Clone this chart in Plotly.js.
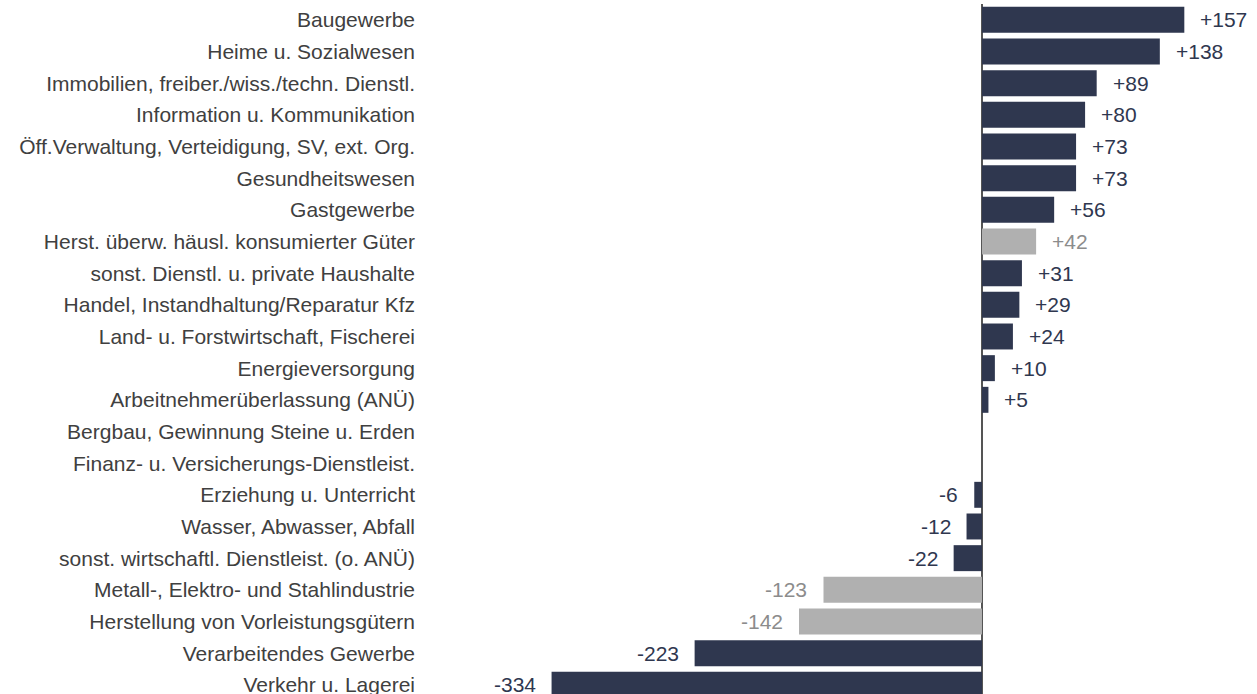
<!DOCTYPE html>
<html><head><meta charset="utf-8">
<script src="https://cdn.plot.ly/plotly-3.0.1.min.js"></script>
<style>html,body{margin:0;padding:0;background:#fff;}#chart{width:1257px;height:694px;}</style>
</head><body><div id="chart"></div>
<script>
const categories = [
  "Baugewerbe",
  "Heime u. Sozialwesen",
  "Immobilien, freiber./wiss./techn. Dienstl.",
  "Information u. Kommunikation",
  "Öff.Verwaltung, Verteidigung, SV, ext. Org.",
  "Gesundheitswesen",
  "Gastgewerbe",
  "Herst. überw. häusl. konsumierter Güter",
  "sonst. Dienstl. u. private Haushalte",
  "Handel, Instandhaltung/Reparatur Kfz",
  "Land- u. Forstwirtschaft, Fischerei",
  "Energieversorgung",
  "Arbeitnehmerüberlassung (ANÜ)",
  "Bergbau, Gewinnung Steine u. Erden",
  "Finanz- u. Versicherungs-Dienstleist.",
  "Erziehung u. Unterricht",
  "Wasser, Abwasser, Abfall",
  "sonst. wirtschaftl. Dienstleist. (o. ANÜ)",
  "Metall-, Elektro- und Stahlindustrie",
  "Herstellung von Vorleistungsgütern",
  "Verarbeitendes Gewerbe",
  "Verkehr u. Lagerei"
];
const values = [157, 138, 89, 80, 73, 73, 56, 42, 31, 29, 24, 10, 5, null, null, -6, -12, -22, -123, -142, -223, -334];
// true = grey highlighted sub-sector
const isSub = [false,false,false,false,false,false,false,true,false,false,false,false,false,false,false,false,false,false,true,true,false,false];

const DARK = "#2f374f", GREY = "#b0b0b0";
const barColors = isSub.map(s => s ? GREY : DARK);
const textColors = isSub.map(s => s ? "#8c8c8c" : "#2f374f");
const FONT = "Liberation Sans, Arial, sans-serif";

const annotations = [];
values.forEach((v, i) => {
  if (v === null) return;
  annotations.push({
    x: v, y: categories[i], xref: "x", yref: "y",
    text: (v > 0 ? "+" : "") + v,
    showarrow: false,
    xanchor: v >= 0 ? "left" : "right",
    xshift: v >= 0 ? 14 : -14,
    font: {family: FONT, size: 21, color: textColors[i]}
  });
});

const trace = {
  type: "bar", orientation: "h",
  x: values, y: categories,
  marker: {color: barColors},
  hoverinfo: "none"
};

const layout = {
  width: 1257, height: 694,
  margin: {l: 420, r: 0, t: 4, b: 0},
  paper_bgcolor: "#fff", plot_bgcolor: "#fff",
  showlegend: false,
  bargap: 0.18,
  xaxis: {
    range: [-436.1, 213.4], showgrid: false, showticklabels: false, ticks: "",
    zeroline: true, zerolinecolor: "#555555", zerolinewidth: 2, fixedrange: true
  },
  yaxis: {
    type: "category", range: [21.29, -0.5], showgrid: false, zeroline: false,
    ticks: "", ticklabelstandoff: 4, automargin: false,
    tickfont: {family: FONT, size: 21, color: "#404040"}
  },
  annotations: annotations
};

Plotly.newPlot("chart", [trace], layout, {displayModeBar: false, staticPlot: true});
</script></body></html>
